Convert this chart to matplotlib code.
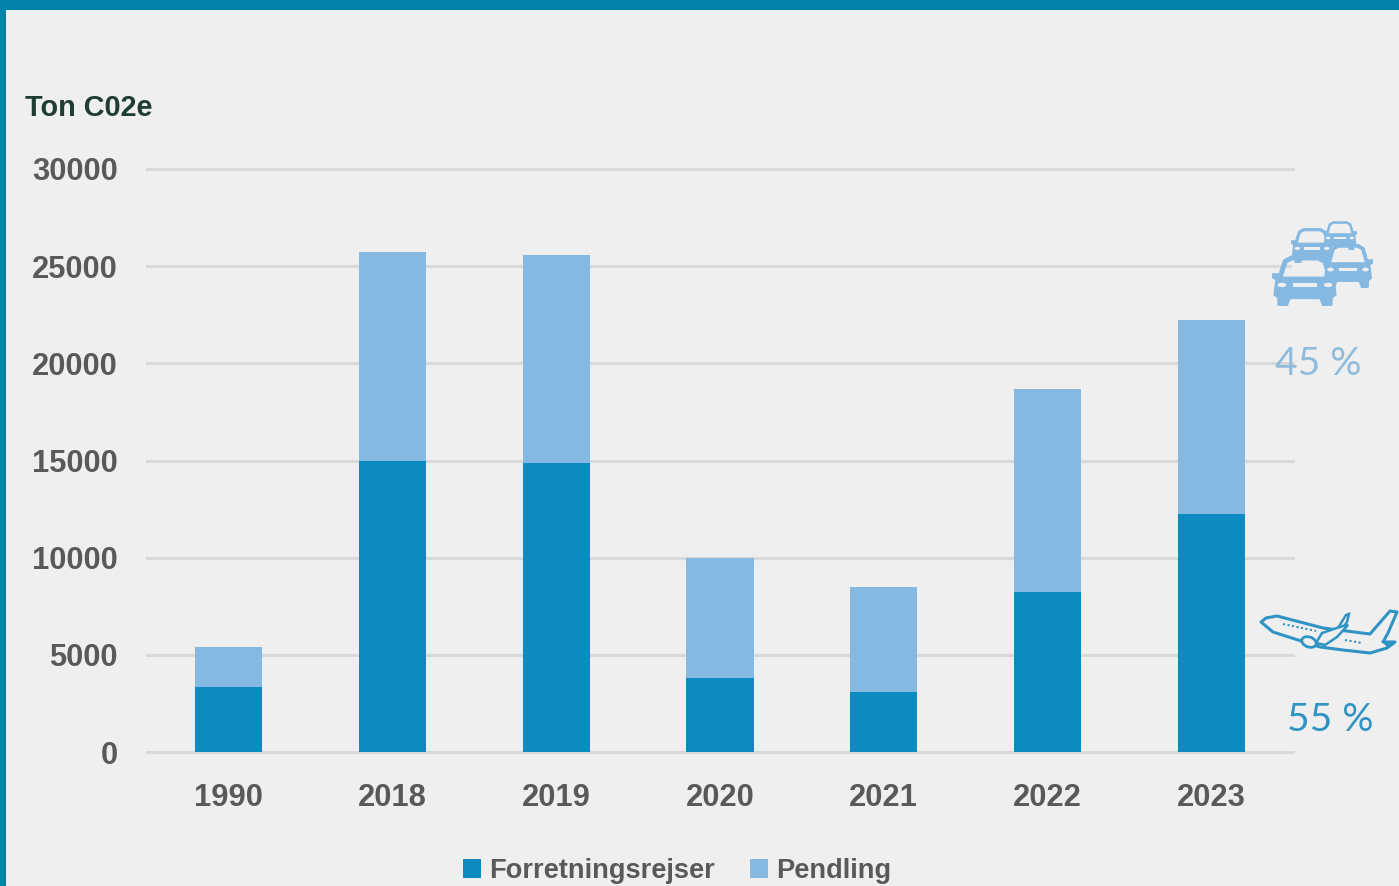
import matplotlib
matplotlib.use("Agg")
import matplotlib.pyplot as plt
from matplotlib.patches import Rectangle, Polygon, Ellipse

W, H = 1399, 886
BG = "#efefef"
DARK = "#0b8bbf"
LIGHT = "#86b9e2"
GRID = "#d9d9d9"
TICK = "#595959"

years = ["1990", "2018", "2019", "2020", "2021", "2022", "2023"]
forretning = [3350, 14980, 14870, 3800, 3090, 8240, 12250]
pendling = [2060, 10750, 10700, 6190, 5400, 10440, 9980]
y_ticks = [0, 5000, 10000, 15000, 20000, 25000, 30000]

plt.rcParams["font.family"] = ["Liberation Sans", "DejaVu Sans"]

fig = plt.figure(figsize=(W / 100, H / 100), dpi=100, facecolor=BG)
ax = fig.add_axes([147 / W, (H - 752) / H, (1293 - 147) / W, (752 - 169) / H])
ax.set_facecolor("none")

x = list(range(len(years)))
ax.bar(x, forretning, width=0.41, color=DARK, label="Forretningsrejser", zorder=3)
ax.bar(x, pendling, width=0.41, bottom=forretning, color=LIGHT, label="Pendling", zorder=3)

ax.set_xlim(-0.5, 6.5)
ax.set_ylim(0, 30000)
ax.set_xticks(x, years)
ax.set_yticks(y_ticks)
ax.tick_params(axis="both", length=0, labelsize=22.2, labelcolor=TICK)
ax.tick_params(axis="x", pad=22)
ax.tick_params(axis="y", pad=21)
for lab in ax.get_xticklabels() + ax.get_yticklabels():
    lab.set_fontweight("bold")

# light horizontal grid only
ax.grid(True, axis="y", color=GRID, linewidth=2.2, zorder=1, clip_on=False)
ax.grid(False, axis="x")
for s in ax.spines.values():
    s.set_visible(False)

leg = ax.legend(
    loc="center", bbox_to_anchor=(677 / W, (H - 871) / H), bbox_transform=fig.transFigure,
    ncol=2, frameon=False, fontsize=19.6, labelcolor=TICK, handlelength=0.65, handleheight=0.65,
    handletextpad=0.3, columnspacing=1.3, borderpad=0,
)
for t in leg.get_texts():
    t.set_fontweight("bold")

# overlay in pixel coordinates for frame and icons
ov = fig.add_axes([0, 0, 1, 1])
ov.set_xlim(0, W)
ov.set_ylim(H, 0)
ov.axis("off")
ov.patch.set_alpha(0)

FRAME = "#0082a9"
ov.add_patch(Rectangle((0, 0), W, 10, color=FRAME, lw=0))
ov.add_patch(Rectangle((0, 0), 6, H, color=FRAME, lw=0))


def car(x0, y0, w, h, color=LIGHT, halo_from=-.03):
    # front view of a car, x0/y0 is top left corner
    def p(u, v):
        return (x0 + u * w, y0 + v * h)

    ov.add_patch(Polygon([p(halo_from, .0), p(.88, -.04), p(1.03, .3), p(1.03, 1.04), p(halo_from, 1.04)],
                         color=BG, lw=0, zorder=5))
    roof = [p(.12, .42), p(.2, .09), p(.3, .02), p(.7, .02), p(.8, .09), p(.88, .42)]
    ov.add_patch(Polygon(roof, closed=False, fill=False, ec=color, lw=w * 0.055, joinstyle="round", zorder=6))
    body = [p(0, .33), p(.12, .33), p(.13, .40), p(.87, .40), p(.88, .33), p(1, .33), p(1, .43),
            p(.95, .47), p(.98, .78), p(.92, .84), p(.92, .98), p(.89, 1), p(.76, 1), p(.72, .86),
            p(.28, .86), p(.24, 1), p(.11, 1), p(.08, .98), p(.08, .84), p(.02, .78), p(.05, .47), p(0, .43)]
    ov.add_patch(Polygon(body, color=color, lw=0, zorder=6))
    ov.add_patch(Ellipse(p(.15, .57), w * .13, h * .09, color=BG, lw=0, zorder=7))
    ov.add_patch(Ellipse(p(.85, .57), w * .13, h * .09, color=BG, lw=0, zorder=7))
    ov.add_patch(Rectangle(p(.32, .54), w * .36, h * .07, color=BG, lw=0, zorder=7))


car(1323, 222, 34, 28)
car(1291, 229, 42, 34)
car(1323, 245, 50, 43)
car(1272, 257, 66, 49, halo_from=.3)


def plane(color="#2f93c4", bg=BG):
    # outline traced in pixels, icon spans 1260-1397 x 610-653
    body = [(1261, 622), (1266, 618), (1277, 616), (1323, 628), (1370, 634), (1390, 611), (1397, 612),
            (1388, 633), (1383, 642), (1395, 642), (1387, 648), (1370, 653), (1343, 650),
            (1320, 647), (1273, 632)]
    ov.add_patch(Polygon(body, fc=bg, ec=color, lw=2.2, joinstyle="round", zorder=6))
    winglet = [(1338, 628), (1346, 615), (1349, 614), (1347, 622), (1342, 629)]
    ov.add_patch(Polygon(winglet, fc=bg, ec=color, lw=1.8, zorder=7))
    wing = [(1316, 643), (1322, 633), (1343, 626), (1348, 625), (1337, 637), (1325, 645)]
    ov.add_patch(Polygon(wing, fc=bg, ec=color, lw=1.8, zorder=8))
    ov.add_patch(Ellipse((1309, 642), 15, 10, angle=20, fc=bg, ec=color, lw=2, zorder=8))
    ov.add_patch(Polygon([(1381, 641), (1395, 642), (1387, 647)], color=color, lw=0, zorder=8))
    ov.plot([1283, 1316], [624, 631], color=color, lw=1.5, ls=(0, (1, 1.2)), zorder=7)
    ov.plot([1345, 1362], [640, 643], color=color, lw=1.5, ls=(0, (1, 1.2)), zorder=7)


plane()

ov.text(25, 108, "Ton C02e", color="#1f3d32", fontsize=20.8, fontweight="bold", ha="left", va="center")
ov.text(1275, 364, "45 %", color="#8fbcdc", fontsize=28, family=["Lato", "DejaVu Sans"],
        ha="left", va="center", zorder=6)
ov.text(1287, 720, "55 %", color="#2f93c4", fontsize=28, family=["Lato", "DejaVu Sans"],
        ha="left", va="center", zorder=6)

fig.savefig("out.png", dpi=100, facecolor=BG)
